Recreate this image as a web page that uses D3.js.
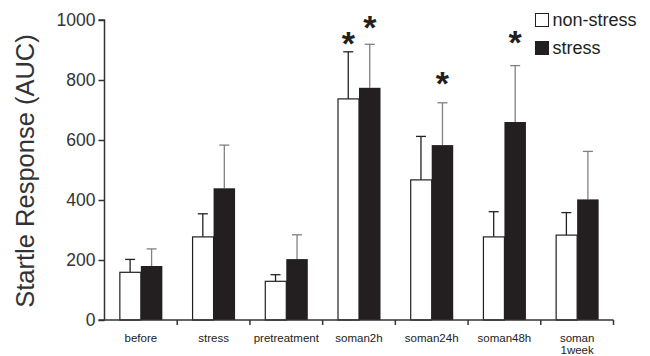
<!DOCTYPE html>
<html><head><meta charset="utf-8">
<script src="https://cdn.jsdelivr.net/npm/d3@7"></script>
<style>body{margin:0;background:#fff}svg{display:block}</style>
</head><body>
<svg id="c" width="650" height="356"></svg>
<script>
const categories = ["before","stress","pretreatment","soman2h","soman24h","soman48h","soman|1week"];
const nonStress = [159,277,129,737,467,277,283];
const nonStressErr = [202,354,151,894,612,361,358];
const stress = [180,439,203,774,583,660,402];
const stressErr = [237,583,284,919,724,848,562];
const yTicks = [0,200,400,600,800,1000];
// significance marks: category index, series (0 non-stress, 1 stress), height in data units
const starCat = [3,3,4,5];
const starSeries = [0,1,1,1];
const starLevel = [937,992,803,940];
const seriesNames = ["non-stress","stress"];

const FONT = "Liberation Sans, Arial, Helvetica, sans-serif";
const svg = d3.select("#c");
const x0 = 104.5, x1 = 613.5, yTop = 20, yBot = 320;
const x = d3.scaleBand().domain(d3.range(categories.length)).range([x0,x1]);
const y = d3.scaleLinear().domain([0,1000]).range([yBot,yTop]);
const bw = 21.5;
const xs = d3.scaleBand().domain([0,1]).range([0,bw*2]);

const data = categories.map((c,i)=>({i, v:[nonStress[i],stress[i]], e:[nonStressErr[i],stressErr[i]]}));
const g = svg.selectAll("g.cat").data(data).join("g").attr("class","cat")
  .attr("transform",d=>`translate(${x(d.i)+x.bandwidth()/2-bw},0)`);

// error bars
g.each(function(d){
  const gg = d3.select(this);
  [0,1].forEach(k=>{
    const cx = xs(k)+bw/2;
    const col = k===0 ? "#222" : "#808080";
    gg.append("line").attr("x1",cx).attr("x2",cx).attr("y1",y(d.v[k])).attr("y2",y(d.e[k]))
      .attr("stroke",col).attr("stroke-width",1.3);
    gg.append("line").attr("x1",cx-5).attr("x2",cx+5).attr("y1",y(d.e[k])).attr("y2",y(d.e[k]))
      .attr("stroke",col).attr("stroke-width",1.3);
  });
});
// bars
g.selectAll("rect").data(d=>d.v.map((v,k)=>({v,k}))).join("rect")
  .attr("x",d=>xs(d.k)+(d.k===0?0.5:0)).attr("width",d=>bw-(d.k===0?0.5:0))
  .attr("y",d=>y(d.v)).attr("height",d=>yBot-y(d.v))
  .attr("fill",d=>d.k===0?"#fff":"#231f20")
  .attr("stroke",d=>d.k===0?"#231f20":"none").attr("stroke-width",1.2);

// asterisks
starCat.forEach((c,j)=>{
  const cx = x(c)+x.bandwidth()/2-bw+xs(starSeries[j])+bw/2;
  const cy = y(starLevel[j]);
  svg.append("text").attr("x",cx).attr("y",cy + 34*0.48)
    .attr("text-anchor","middle").attr("font-family",FONT)
    .attr("font-size",34).attr("font-weight","bold").attr("fill","#231f20").text("*");
});

// y axis
const yAxis = d3.axisLeft(y).tickValues(yTicks).tickFormat(d3.format("d")).tickSize(6).tickPadding(3);
const ya = svg.append("g").attr("transform",`translate(${x0},0)`).call(yAxis);
ya.select(".domain").attr("stroke","#333").attr("stroke-width",1.5).attr("d",`M-6,${yTop}H0V${yBot}H-6`);
ya.selectAll(".tick line").attr("stroke","#333").attr("stroke-width",1.5);
ya.selectAll(".tick text").attr("font-family",FONT).attr("font-size",17.5).attr("fill","#333");

// x axis
const xa = svg.append("g").attr("transform",`translate(0,${yBot})`);
xa.append("line").attr("x1",x0).attr("x2",x1).attr("stroke","#333").attr("stroke-width",1.5);
xa.selectAll("line.tk").data(d3.range(1,categories.length+1)).join("line").attr("class","tk")
  .attr("x1",i=>i<categories.length?x(i):x1).attr("x2",i=>i<categories.length?x(i):x1)
  .attr("y1",0).attr("y2",5).attr("stroke","#333").attr("stroke-width",1.5);
const lbl = xa.selectAll("text.cl").data(categories).join("text").attr("class","cl")
  .attr("x",(c,i)=>x(i)+x.bandwidth()/2).attr("y",22)
  .attr("text-anchor","middle").attr("font-family",FONT)
  .attr("font-size",11.5).attr("fill","#222");
lbl.each(function(c){
  const parts = c.split("|");
  d3.select(this).selectAll("tspan").data(parts).join("tspan")
    .attr("x",d3.select(this).attr("x")).attr("dy",(p,j)=>j===0?0:12).text(p=>p);
});

// y label
svg.append("text").attr("transform","translate(34,171) rotate(-90)")
  .attr("text-anchor","middle").attr("font-family",FONT)
  .attr("font-size",25.5).attr("fill","#333").text("Startle Response (AUC)");

// legend
const lg = svg.append("g").selectAll("g").data(seriesNames).join("g")
  .attr("transform",(d,i)=>`translate(535,${13+i*28})`);
lg.append("rect").attr("x",0.5).attr("y",0.5).attr("width",13).attr("height",13)
  .attr("fill",(d,i)=>i===0?"#fff":"#231f20").attr("stroke","#231f20").attr("stroke-width",1);
lg.append("text").attr("x",17.5).attr("y",12.5).attr("font-family",FONT)
  .attr("font-size",18).attr("fill","#222").text(d=>d);
</script>
</body></html>
